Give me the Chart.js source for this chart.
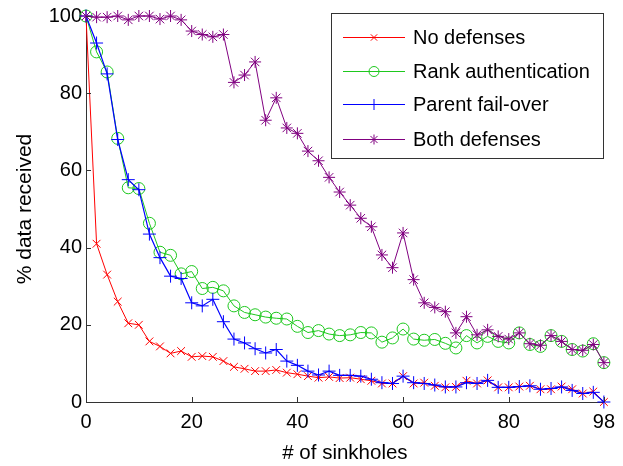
<!DOCTYPE html>
<html>
<head>
<meta charset="utf-8">
<script src="https://cdn.jsdelivr.net/npm/chart.js@4"></script>
<style>
  html, body { margin: 0; padding: 0; background: #fff; }
  #wrap { width: 623px; height: 466px; }
</style>
</head>
<body>
<div id="wrap"><canvas id="c" width="623" height="466"></canvas></div>
<script>
// ── data ────────────────────────────────────────────────
const SINKHOLES = [0,2,4,6,8,10,12,14,16,18,20,22,24,26,28,30,32,34,36,38,40,42,44,46,48,
                   50,52,54,56,58,60,62,64,66,68,70,72,74,76,78,80,82,84,86,88,90,92,94,96,98];

const NO_DEF = [100,41,33,26,20.4,20,15.7,14.4,12.6,13.2,11.7,11.9,11.7,10.6,9.1,8.6,8.0,8.0,8.3,7.6,
                7.2,6.7,6.3,6.5,6.2,6.3,5.9,5.5,4.8,4.8,6.7,4.8,5.0,4.2,3.8,3.9,5.5,4.8,5.6,3.8,
                3.8,4.0,4.2,3.3,3.3,4.0,3.3,2.2,2.7,0];

const RANK_AUTH = [100,90.7,85.5,68.3,55.5,55.3,46.3,38.8,38,33.2,33.8,29.4,29.7,28.8,24.9,23.2,22.6,22,21.7,21.5,
                   19.6,18,18.5,17.6,17.2,17.4,18,17.9,15.5,16.6,18.9,16.3,16,16.2,15.2,14,17.2,15.3,17,15.7,
                   15.3,17.9,14.9,14.4,17.2,15.7,13.6,13.2,15.1,10.2];

const PARENT_FO = [100,93,85,68,57.6,55,43.5,37.4,32.6,32,25.7,24.9,26.6,20.8,16.3,15.3,13.8,12.7,13.6,10.6,
                   9.5,8,7,8,6.9,6.9,6.7,5.9,5.0,4.8,6.7,5.0,4.8,4.4,3.9,3.9,5.0,4.8,5.6,3.8,
                   3.8,4.0,4.2,3.3,3.5,3.9,3.0,2.2,2.5,0];

const BOTH_DEF = [100,99.7,99.7,100,99,100,100,99.2,100,99,96.1,95.2,94.6,95.2,82.8,84.7,88.1,73,78.8,71,
                  69.6,65,62.5,58.2,54.4,51,47.6,45.4,38.1,34.8,43.8,31.7,25.7,24.5,23.4,17.9,22.1,17.4,18.7,17,
                  16.3,17.9,15.1,14.7,17.2,15.7,13.6,13.4,14.9,10.2];

const X_TICKS = [0,20,40,60,80,98];
const Y_TICKS = [0,20,40,60,80,100];

const LABELS = ['No defenses','Rank authentication','Parent fail-over','Both defenses'];

// ── styles ──────────────────────────────────────────────
const FONT = 'Liberation Sans, Arial, Helvetica, sans-serif';
const STYLES = [
  { color:'#ff0000', point:'crossRot', radius:5.5, width:1   },
  { color:'#1ec81e', point:'circle',   radius:6,   width:1   },
  { color:'#0000ff', point:'cross',    radius:6.5, width:1.2 },
  { color:'#800080', point:'star',     radius:6,   width:1   }
];
const SERIES = [NO_DEF, RANK_AUTH, PARENT_FO, BOTH_DEF];

const datasets = SERIES.map((vals, i) => ({
  label: LABELS[i],
  data: vals.map((v, k) => ({ x: SINKHOLES[k], y: v })),
  borderColor: STYLES[i].color,
  backgroundColor: 'rgba(0,0,0,0)',
  borderWidth: STYLES[i].width,
  pointStyle: STYLES[i].point,
  pointRadius: STYLES[i].radius,
  pointBorderColor: STYLES[i].color,
  pointBackgroundColor: 'rgba(0,0,0,0)',
  pointBorderWidth: 1,
  tension: 0,
  clip: false,
  order: 3 - i   // later series drawn on top
}));

// ── axes ticks (inward) + legend ─────────────────────────
const decor = {
  id: 'decor',
  afterDatasetsDraw(chart) {
    const ctx = chart.ctx;
    const xs = chart.scales.x, ys = chart.scales.y;
    const a = chart.chartArea;
    ctx.save();
    ctx.strokeStyle = '#333';
    ctx.lineWidth = 1;
    ctx.beginPath();
    X_TICKS.forEach(t => {
      const px = Math.round(xs.getPixelForValue(t)) + 0.5;
      ctx.moveTo(px, a.bottom); ctx.lineTo(px, a.bottom - 5);
    });
    Y_TICKS.forEach(t => {
      const py = Math.round(ys.getPixelForValue(t)) + 0.5;
      ctx.moveTo(a.left, py); ctx.lineTo(a.left + 5, py);
    });
    ctx.stroke();

    // legend box
    const bx = 331.5, by = 13.5, bw = 272, bh = 145;
    ctx.fillStyle = '#fff';
    ctx.fillRect(bx, by, bw, bh);
    ctx.strokeStyle = '#333';
    ctx.strokeRect(bx, by, bw, bh);
    const rows = [37, 71, 104, 139];
    ctx.font = '20px ' + FONT;
    ctx.textBaseline = 'middle';
    ctx.textAlign = 'left';
    rows.forEach((ry, i) => {
      const st = STYLES[i];
      ctx.strokeStyle = st.color;
      ctx.lineWidth = st.width;
      ctx.beginPath();
      ctx.moveTo(343, ry + 0.5); ctx.lineTo(405, ry + 0.5);
      ctx.stroke();
      ctx.lineWidth = 1;
      ctx.fillStyle = 'rgba(0,0,0,0)';
      Chart.helpers.drawPoint(ctx, {
        pointStyle: st.point, radius: st.radius - 1, rotation: 0, borderWidth: 1
      }, 374, ry + 0.5);
      ctx.fillStyle = '#000';
      ctx.fillText(LABELS[i], 413, ry + 1);
    });
    ctx.restore();
  }
};

new Chart(document.getElementById('c'), {
  type: 'line',
  data: { datasets },
  options: {
    responsive: false,
    animation: false,
    events: [],
    layout: { padding: { left: 13, top: 13, right: 12, bottom: 0 } },
    plugins: { legend: { display: false }, tooltip: { enabled: false } },
    scales: {
      x: {
        type: 'linear',
        min: 0, max: 98,
        afterBuildTicks: s => { s.ticks = X_TICKS.map(v => ({ value: v })); },
        afterFit: s => { s.height = 64; },
        grid: { display: true, drawOnChartArea: false, drawTicks: false, color: '#333' },
        border: { display: true, color: '#333', width: 1 },
        ticks: { color: '#000', font: { family: FONT, size: 20 }, padding: 8, maxRotation: 0, autoSkip: false },
        title: { display: true, text: '# of sinkholes', color: '#000', font: { family: FONT, size: 20.5 }, padding: { top: 2, bottom: 0 } }
      },
      y: {
        min: 0, max: 100,
        afterBuildTicks: s => { s.ticks = Y_TICKS.map(v => ({ value: v })); },
        afterFit: s => { s.width = 73; },
        grid: { display: true, drawOnChartArea: false, drawTicks: false, color: '#333' },
        border: { display: true, color: '#333', width: 1 },
        ticks: { color: '#000', font: { family: FONT, size: 20 }, padding: 4 },
        title: { display: true, text: '% data received', color: '#000', font: { family: FONT, size: 21 }, padding: { top: 0, bottom: 0 } }
      }
    }
  },
  plugins: [decor]
});
</script>
</body>
</html>
